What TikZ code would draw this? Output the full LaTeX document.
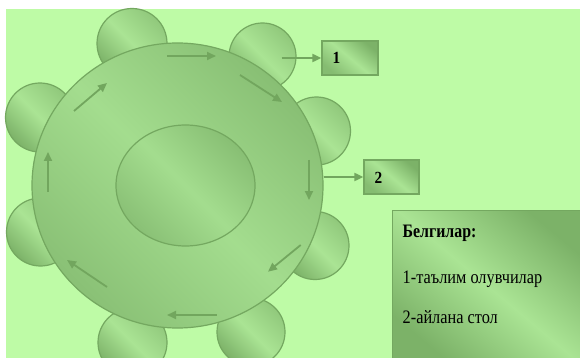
\documentclass[tikz,border=0pt]{standalone}
\usepackage{graphicx}
\usepackage{fontspec}
\setmainfont{Liberation Serif}
\usetikzlibrary{shapes.geometric,arrows.meta}
\definecolor{bggreen}{RGB}{190,251,166}
\definecolor{darkg}{RGB}{124,178,104}
\definecolor{lightg}{RGB}{170,228,148}
\definecolor{midg}{RGB}{154,210,134}
\definecolor{edgeg}{RGB}{116,168,96}
\definecolor{arrowg}{RGB}{114,166,94}
\tikzset{
  shapefill/.style={top color=darkg!55!lightg, bottom color=darkg, middle color=lightg, shading angle=-45},
  seat/.style={circle, draw=edgeg, line width=1.2pt, shapefill, inner sep=0pt, minimum size=#1},
  tablebody/.style={ellipse, draw=edgeg, line width=1.2pt, top color=darkg!60!midg, bottom color=darkg!55!midg, middle color=lightg!60!midg, shading angle=-45, inner sep=0pt},
  numbox/.style={rectangle, draw=edgeg, line width=1.2pt, top color=darkg, bottom color=darkg!80!lightg, middle color=lightg, shading angle=-40, minimum width=56pt, minimum height=34pt, inner sep=0pt},
  ringarrow/.style={draw=arrowg, line width=1.8pt, -{Triangle[length=9pt,width=8pt]}},
  numlabel/.style={font=\fontsize{17}{19}\selectfont\bfseries, anchor=base west, inner sep=0pt},
  legtext/.style={font=\fontsize{19}{22}\selectfont, anchor=base west, inner sep=0pt}
}
\begin{document}
\begin{tikzpicture}[x=1pt,y=-1pt]
\useasboundingbox (0,0) rectangle (580,358);
\fill[white] (0,0) rectangle (580,358);
\fill[bggreen] (6,9) rectangle (580,358);
% seats
\node[seat=70pt] (s1) at (132,43.5) {};
\node[seat=67pt] (s2) at (262.5,56.5) {};
\node[seat=68pt] (s3) at (316.5,131) {};
\node[seat=68pt] (s4) at (315,245.5) {};
\node[seat=68pt] (s5) at (251,332) {};
\node[seat=69pt] (s6) at (132.5,342.5) {};
\node[seat=68pt] (s7) at (40.5,232) {};
\node[seat=69pt] (s8) at (40,117.5) {};
% table
\node[tablebody, minimum width=291pt, minimum height=285pt] (table) at (177.5,185.5) {};
\node[tablebody, minimum width=139pt, minimum height=121pt] (inner) at (185.5,185.5) {};
% ring arrows
\coordinate (a1s) at (167,56);   \coordinate (a1e) at (216,56);
\coordinate (a2s) at (240,75);   \coordinate (a2e) at (282,102);
\coordinate (a3s) at (309,160);  \coordinate (a3e) at (309,200);
\coordinate (a4s) at (300.7,245);\coordinate (a4e) at (268,271.7);
\coordinate (a5s) at (216.5,315);\coordinate (a5e) at (167,315);
\coordinate (a6s) at (107,287);  \coordinate (a6e) at (67,260);
\coordinate (a7s) at (48,192);   \coordinate (a7e) at (48,152);
\coordinate (a8s) at (74,111);   \coordinate (a8e) at (107,83);
\foreach \i in {1,...,8} { \draw[ringarrow] (a\i s) -- (a\i e); }
% number boxes
\node[numbox] (b1) at (350,58) {};
\node[numlabel] at ([xshift=11pt,yshift=-6pt]b1.west) {\scalebox{0.9}[1]{1}};
\node[numbox, minimum width=55pt] (b2) at (391.5,177) {};
\node[numlabel] at ([xshift=11pt,yshift=-6pt]b2.west) {\scalebox{0.9}[1]{2}};
\coordinate (c1) at (281.5,58);
\draw[ringarrow] (c1) -- (b1.west);
\draw[ringarrow] (table.east |- b2.west) -- (b2.west);
% legend
\node[rectangle, draw=edgeg, line width=1.2pt, top color=darkg, bottom color=darkg, middle color=lightg, shading angle=-40, minimum width=189pt, minimum height=149pt, inner sep=0pt, anchor=north west] (legend) at (391.5,210) {};
\node[legtext, font=\fontsize{19}{22}\selectfont\bfseries] (l1) at (402.5,237) {\scalebox{0.835}[1]{Белгилар:}};
\node[legtext] (l2) at (402.5,283) {\scalebox{0.858}[1]{1-таълим олувчилар}};
\node[legtext] (l3) at (402.5,323.5) {\scalebox{0.858}[1]{2-айлана стол}};
\end{tikzpicture}
\end{document}
